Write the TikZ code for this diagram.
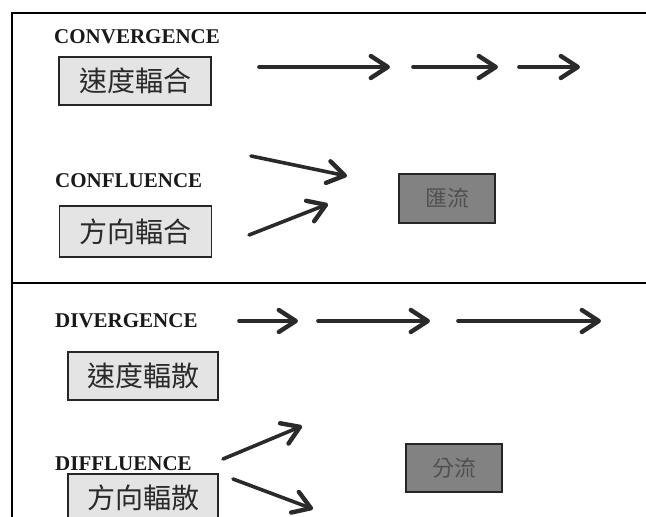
\documentclass[tikz,border=0pt]{standalone}
\usepackage{fontspec}
\setmainfont{Liberation Serif}
\newfontfamily\cjk{Noto Sans CJK TC}
\usetikzlibrary{arrows.meta}
\definecolor{inkc}{HTML}{2A2A2A}
\definecolor{lightfill}{HTML}{E4E4E4}
\definecolor{darkfill}{HTML}{828282}
\definecolor{darktext}{HTML}{505050}
\tikzset{
  frameline/.style={line width=1.4pt, draw=black},
  termlabel/.style={anchor=base west, inner sep=0pt, font=\fontsize{21}{21}\selectfont\bfseries, text=black!90},
  lightbox/.style={draw=black!85, line width=1.1pt, fill=lightfill, inner sep=0pt,
    minimum width=152pt, minimum height=48pt, text=inkc, font=\cjk\fontsize{28}{28}\selectfont},
  darkbox/.style={draw=black!85, line width=1.2pt, fill=darkfill, inner sep=0pt,
    minimum width=96pt, minimum height=48pt, text=darktext, font=\cjk\fontsize{22}{22}\selectfont},
  flowarrow/.style={draw=inkc, line width=3.6pt, line cap=round,
    -{Straight Barb[length=17pt,width=22pt,line width=4.4pt,round]}}
}
\begin{document}
\begin{tikzpicture}[x=1pt,y=-1pt]
\useasboundingbox (0,0) rectangle (646,517);
\fill[white] (0,0) rectangle (646,517);
% frame
\coordinate (ftl) at (12,13);
\coordinate (ftr) at (646,13);
\coordinate (fbl) at (12,517);
\coordinate (fdl) at (12,283);
\coordinate (fdr) at (646,283);
\draw[frameline] (ftr) -- (ftl) -- (fbl);
\draw[frameline] (fdl) -- (fdr);

% CONVERGENCE
\node[termlabel] (conv) at (54,43) {CONVERGENCE};
\node[lightbox] (convbox) at (135,81) {速度輻合};
\coordinate (c1s) at (259,67); \coordinate (c1e) at (390,67);
\coordinate (c2s) at (413,67); \coordinate (c2e) at (498,67);
\coordinate (c3s) at (519,67); \coordinate (c3e) at (580,67);
\draw[flowarrow] (c1s) -- (c1e);
\draw[flowarrow] (c2s) -- (c2e);
\draw[flowarrow] (c3s) -- (c3e);

% CONFLUENCE
\node[termlabel] (conf) at (55,187) {CONFLUENCE};
\node[lightbox, minimum height=51pt] (confbox) at (135.5,231.5) {方向輻合};
\node[darkbox, minimum height=49pt] (merge) at (447,198.5) {匯流};
\coordinate (f1s) at (251,156); \coordinate (f1e) at (347,176);
\coordinate (f2s) at (249,235); \coordinate (f2e) at (328,204);
\draw[flowarrow] (f1s) -- (f1e);
\draw[flowarrow] (f2s) -- (f2e);

% DIVERGENCE
\node[termlabel] (div) at (55,327) {DIVERGENCE};
\node[lightbox, minimum width=150pt] (divbox) at (143,376) {速度輻散};
\coordinate (d1s) at (239,321); \coordinate (d1e) at (298,321);
\coordinate (d2s) at (318,321); \coordinate (d2e) at (430,321);
\coordinate (d3s) at (458,321); \coordinate (d3e) at (601,321);
\draw[flowarrow] (d1s) -- (d1e);
\draw[flowarrow] (d2s) -- (d2e);
\draw[flowarrow] (d3s) -- (d3e);

% DIFFLUENCE
\node[termlabel] (dif) at (55,470) {DIFFLUENCE};
\node[lightbox, minimum width=150pt] (difbox) at (143,498) {方向輻散};
\node[darkbox] (split) at (454,468) {分流};
\coordinate (g1s) at (223,459); \coordinate (g1e) at (302,426);
\coordinate (g2s) at (233,479); \coordinate (g2e) at (313,509);
\draw[flowarrow] (g1s) -- (g1e);
\draw[flowarrow] (g2s) -- (g2e);
\end{tikzpicture}
\end{document}
